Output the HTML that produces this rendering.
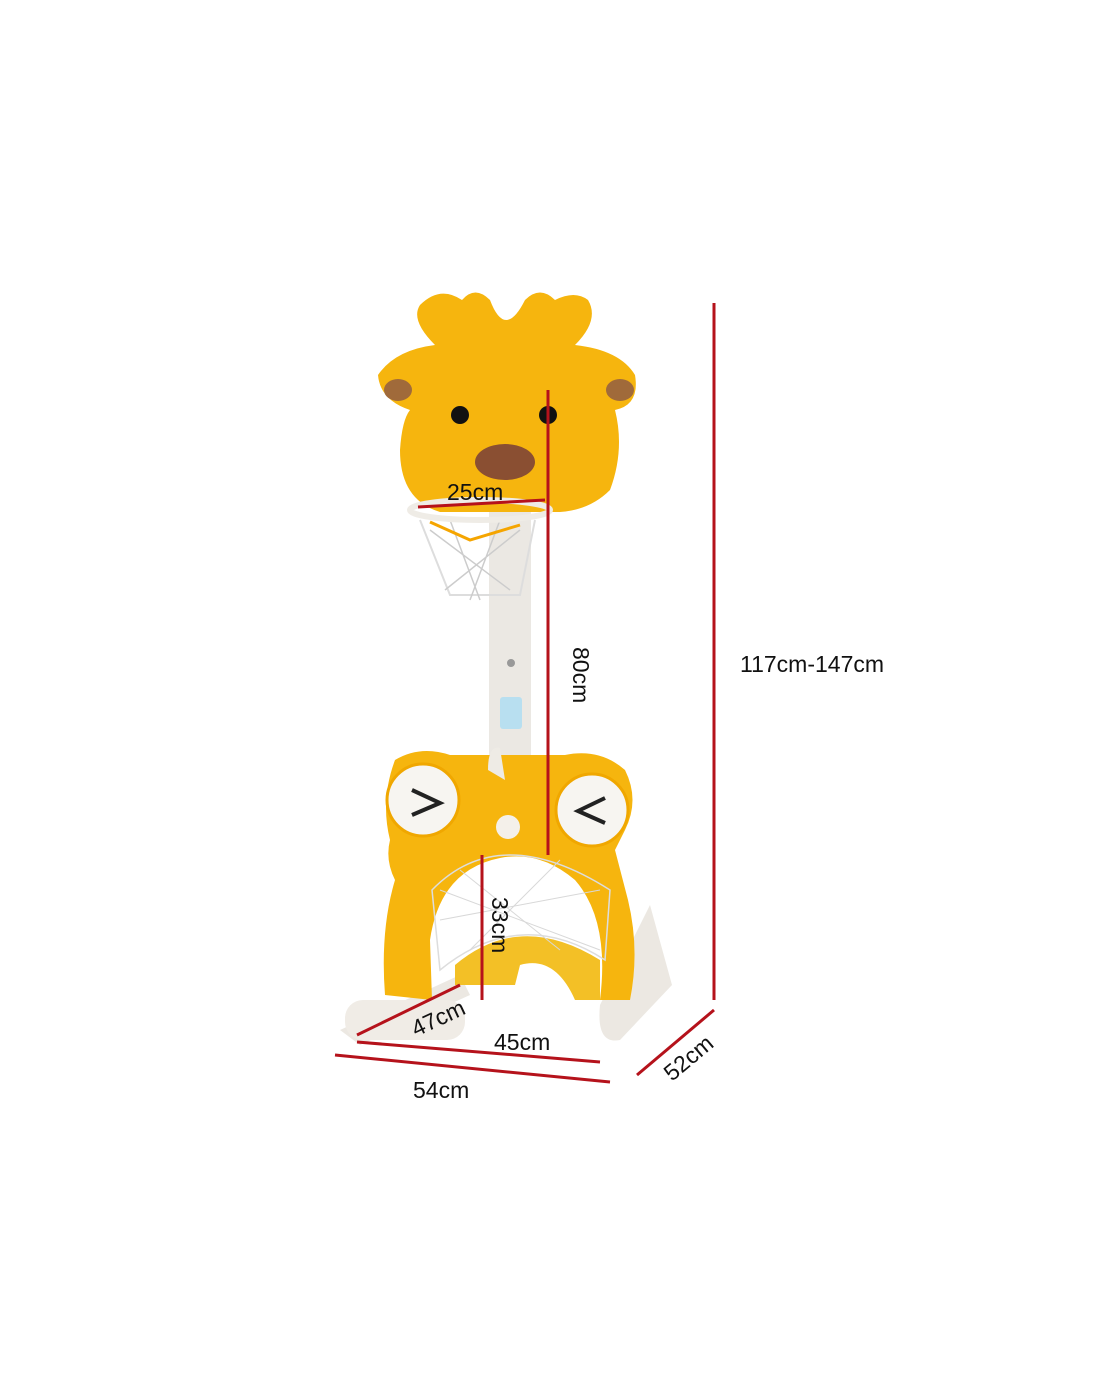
<!DOCTYPE html>
<html><head><meta charset="utf-8"><style>
html,body{margin:0;padding:0;background:#fff;}
svg{display:block}
text{font-family:"Liberation Sans",sans-serif;fill:#111;font-size:23px}
</style></head><body>
<svg width="1100" height="1375" viewBox="0 0 1100 1375" xmlns="http://www.w3.org/2000/svg">
<!-- base -->
<path d="M340 1030 L460 975 L470 995 L360 1045 Z" fill="#ece8e2"/>
<path d="M600 1005 L650 905 L672 985 L620 1040 Q596 1045 600 1005Z" fill="#ece8e2"/>
<rect x="345" y="1000" width="120" height="40" rx="18" fill="#f0ece6"/>
<!-- pole -->
<rect x="489" y="495" width="42" height="280" fill="#ebe8e3"/>
<rect x="500" y="697" width="22" height="32" rx="3" fill="#b8dff0"/>
<circle cx="511" cy="663" r="4" fill="#999"/>
<!-- lower yellow frame -->
<path d="M395 760 Q420 745 450 755 L565 755 Q600 748 625 770 Q640 800 625 830 L615 850 L628 900 Q640 950 630 1000 L600 1000 Q610 920 575 880 Q540 850 500 858 Q440 870 430 940 L432 1000 L385 995 Q380 930 395 880 Q385 860 390 840 Q380 800 395 760Z" fill="#f6b50e"/>
<path d="M455 965 Q520 910 600 960 L600 1000 L575 1000 Q555 955 520 965 L515 985 L455 985Z" fill="#f3c026"/>
<!-- arch net -->
<path d="M432 890 Q500 820 610 890 L605 960 Q520 905 440 970Z" fill="none" stroke="#ddd" stroke-width="1.5"/>
<g stroke="#d8d8d8" stroke-width="1">
<line x1="440" y1="890" x2="600" y2="950"/><line x1="440" y1="920" x2="600" y2="890"/><line x1="460" y1="870" x2="560" y2="950"/><line x1="560" y1="860" x2="470" y2="950"/></g>
<circle cx="423" cy="800" r="36" fill="#f7f5f1" stroke="#f0a700" stroke-width="3"/>
<circle cx="592" cy="810" r="36" fill="#f7f5f1" stroke="#f0a700" stroke-width="3"/>
<path d="M412 790 L440 803 L412 815" fill="none" stroke="#222" stroke-width="4"/>
<path d="M605 798 L578 811 L605 823" fill="none" stroke="#222" stroke-width="4"/>
<circle cx="508" cy="827" r="12" fill="#f4f0ea"/>
<path d="M488 770 Q488 745 500 748 L505 780 Z" fill="#eeebe5"/>
<!-- head -->
<path d="M420 305 Q440 285 462 300 Q475 285 490 300 Q505 340 525 300 Q540 285 555 300 Q575 290 588 300 Q600 320 575 345 Q620 350 635 375 Q640 405 615 410 Q625 450 610 490 Q590 510 560 512 L440 512 Q400 500 400 450 Q402 420 410 410 Q380 400 378 375 Q395 350 435 345 Q410 320 420 305Z" fill="#f6b50e"/>
<ellipse cx="398" cy="390" rx="14" ry="11" fill="#a06a3a"/>
<ellipse cx="620" cy="390" rx="14" ry="11" fill="#a06a3a"/>
<circle cx="460" cy="415" r="9" fill="#111"/>
<circle cx="548" cy="415" r="9" fill="#111"/>
<ellipse cx="505" cy="462" rx="30" ry="18" fill="#8a4f32"/>
<!-- hoop -->
<path d="M420 520 L450 595 L520 595 L535 520" fill="none" stroke="#ddd" stroke-width="2"/>
<path d="M430 530 L510 590 M520 530 L445 590 M450 520 L480 600 M500 520 L470 600" stroke="#ccc" stroke-width="1.5" fill="none"/>
<path d="M430 522 L470 540 L520 525" stroke="#f5a500" stroke-width="3" fill="none"/>
<ellipse cx="480" cy="510" rx="70" ry="10" fill="none" stroke="#efece6" stroke-width="6"/>
<!-- dimension lines -->
<g stroke="#b5121b" stroke-width="3" fill="none">
<line x1="714" y1="303" x2="714" y2="1000"/>
<line x1="714" y1="1010" x2="637" y2="1075"/>
<line x1="335" y1="1055" x2="610" y2="1082"/>
<line x1="357" y1="1042" x2="600" y2="1062"/>
<line x1="357" y1="1035" x2="460" y2="985"/>
<line x1="482" y1="855" x2="482" y2="1000"/>
<line x1="548" y1="390" x2="548" y2="855"/>
<line x1="418" y1="507" x2="545" y2="500"/>
</g>
<text x="740" y="672">117cm-147cm</text>
<text x="413" y="1098">54cm</text>
<text x="494" y="1050">45cm</text>
<text x="447" y="500">25cm</text>
<text transform="translate(672,1082) rotate(-40)">52cm</text>
<text transform="translate(416,1037) rotate(-25)">47cm</text>
<text transform="translate(492,897) rotate(90)">33cm</text>
<text transform="translate(573,647) rotate(90)">80cm</text>
</svg>
</body></html>
